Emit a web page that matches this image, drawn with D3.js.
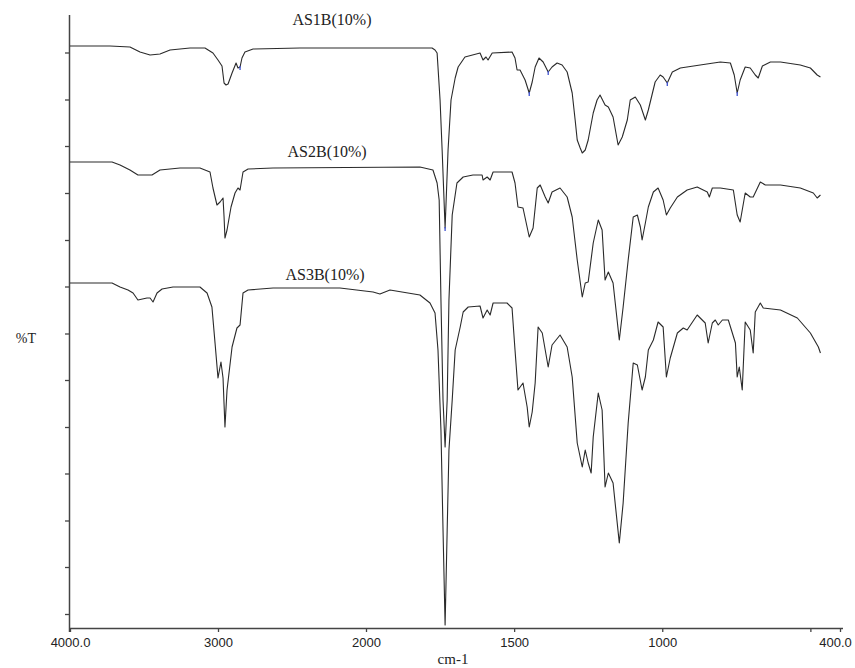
<!DOCTYPE html>
<html>
<head>
<meta charset="utf-8">
<script src="https://cdn.jsdelivr.net/npm/d3@7"></script>
<style>
  html, body { margin: 0; padding: 0; background: #fff; }
  svg { display: block; }
</style>
</head>
<body>
<svg id="chart" width="855" height="668"></svg>
<script>
/* ============================================================
   IR spectra — AS1B / AS2B / AS3B (10%)
   stacked %T traces, wavenumber axis with scale change at 2000
   ============================================================ */

// --- 1. DATA (wavenumber cm-1, %T offset) ---
const seriesNames = ["AS1B(10%)", "AS2B(10%)", "AS3B(10%)"];

const as1b = [
  [4000,116.4],[3730,116.4],[3595,116.2],[3527,115.2],[3459,114.6],[3392,114.8],
  [3324,115.6],[3189,116],[3088,116],[3034,115],[3000,113.6],[2973,112.4],
  [2959,109],[2946,108.6],[2932,108.8],[2905,111],[2878,113],[2865,112],
  [2851,112.2],[2838,114],[2818,115.2],[2763,115.8],[2446,116],[1818,116],
  [1777,116],[1767,115.6],[1760,115],[1750,105.6],[1743,95.6],[1733,80],
  [1723,95.6],[1713,105.6],[1699,110],[1689,112.2],[1666,114.2],[1615,115],
  [1605,113.6],[1595,114.2],[1588,113.6],[1574,115],[1507,115.2],[1497,114],
  [1490,111.6],[1480,111.6],[1463,109.6],[1449,107],[1439,109.2],[1429,112.2],
  [1416,114],[1402,113.2],[1385,111.2],[1372,112.2],[1355,113],[1338,112.6],
  [1321,111.2],[1304,107],[1294,101.6],[1287,97.6],[1277,96],[1270,95],
  [1260,95.6],[1250,97.6],[1233,103],[1220,105.6],[1210,106.6],[1193,104.6],
  [1182,104.2],[1166,102.2],[1149,96.6],[1135,98.2],[1118,101.6],[1108,105.6],
  [1091,106.2],[1074,104.6],[1057,101.6],[1047,103.6],[1024,109.2],[1007,110.6],
  [997,110.2],[983,109],[966,111.2],[939,112],[872,112.6],[804,113.2],
  [770,113],[757,110.6],[747,107],[737,109.6],[720,112.2],[703,112],
  [686,110.6],[676,110],[662,112.4],[635,113.2],[601,113.2],[534,112.6],
  [500,112],[477,110.6],[466,110.2]
];

const as2b = [
  [4000,93.2],[3716,93.2],[3662,92.6],[3595,91.6],[3541,90.6],[3446,90.6],
  [3392,91.6],[3257,92],[3122,92],[3054,91.2],[3034,88],[3007,84.6],
  [2986,85.2],[2966,86],[2959,82.2],[2953,78],[2939,79.6],[2912,84.2],
  [2885,87],[2865,88],[2851,87.6],[2831,91.2],[2797,91.8],[2628,92],
  [1818,92.2],[1774,91.6],[1760,89],[1753,85.6],[1747,65.6],[1740,45.6],
  [1733,36.2],[1726,45.6],[1720,65.6],[1709,82.6],[1699,86.6],[1693,89],
  [1672,90.2],[1639,90.6],[1608,90.6],[1605,89.6],[1591,90.2],[1581,89.6],
  [1571,91.2],[1507,91.2],[1497,89],[1487,84.2],[1470,84],[1449,78.2],
  [1436,80],[1422,88],[1412,88.6],[1395,86.2],[1385,85],[1372,87.2],
  [1345,88],[1321,86.2],[1304,82.2],[1287,73.6],[1270,66.2],[1260,69],
  [1250,69.2],[1233,77],[1216,81.6],[1203,79.6],[1193,69.6],[1182,71.2],
  [1166,69],[1145,57.6],[1132,64.2],[1115,73.6],[1098,82.2],[1084,82.6],
  [1074,80.2],[1068,77.6],[1057,81],[1047,84.2],[1030,87.2],[1014,88],
  [997,85.6],[986,82.6],[973,84],[949,86.2],[916,87.6],[882,88.2],
  [848,87.2],[841,86.2],[831,88],[804,88],[760,87.6],[747,82.6],
  [737,81.2],[720,87],[703,86.2],[693,86.2],[669,89.2],[652,88.6],
  [601,88.6],[534,88],[490,87],[477,86],[466,86.6]
];

const as3b = [
  [4000,69],[3716,69],[3662,68.2],[3608,67.6],[3574,67],[3541,65.6],
  [3480,66],[3459,66],[3439,65.2],[3412,67],[3378,67.8],[3304,68.2],
  [3122,68.2],[3074,67],[3041,64.2],[3020,57],[3000,50],[2980,53.2],
  [2966,50],[2953,40.2],[2939,47.6],[2905,56.2],[2872,60],[2851,60.6],
  [2831,67],[2797,67.6],[2628,68],[2176,68],[1976,67.2],[1953,66.8],
  [1919,67.6],[1818,66.6],[1784,65],[1767,63],[1757,55.6],[1747,39.6],
  [1740,19.6],[1733,0.6],[1726,19.6],[1720,35.6],[1709,45.6],[1699,55.6],
  [1682,60.2],[1672,63.2],[1655,64.2],[1615,64.4],[1605,62],[1591,63.6],
  [1581,62.6],[1571,65],[1524,65],[1507,64],[1497,55.6],[1487,47.6],
  [1470,49],[1456,44.2],[1449,40.2],[1439,43.2],[1429,49],[1419,60.2],
  [1405,59],[1395,55.6],[1385,52.2],[1372,56.6],[1345,58.6],[1321,56.2],
  [1304,50.2],[1287,37],[1270,32.2],[1260,35.6],[1250,33],[1240,31],
  [1233,38.2],[1216,47],[1203,43.6],[1193,28.2],[1182,31],[1166,29],
  [1145,17],[1132,25],[1115,41],[1098,53],[1084,52.6],[1068,47.6],
  [1057,50.2],[1047,55.6],[1030,57.6],[1014,61.2],[997,60.2],[986,50.2],
  [973,54],[949,59],[929,60],[916,59.6],[882,62.6],[855,61],
  [845,57],[831,61],[821,61.6],[811,60.6],[797,61.6],[777,61.6],
  [753,57],[747,50.2],[740,52.2],[730,47.6],[720,61.2],[703,59.6],
  [693,55],[686,63.2],[669,65],[659,64],[601,63.6],[544,62],
  [500,59],[473,56.2],[466,55]
];

// peak picks marked in blue on the top trace
const as1bPeaks = [2851, 1733, 1449, 1385, 983, 747];

// label anchors (wavenumber, %T) for each trace name
const labelWn = [2230, 2263, 2277];
const labelT  = [121.6, 95.2, 70.6];

// axis ticks
const xTicks      = [4000, 3000, 2000, 1500, 1000, 500, 400];
const xTickLabels = ["4000.0", "3000", "2000", "1500", "1000", "", "400.0"];
const yTicks      = [2.8, 12.2, 21.5, 30.9, 40.2, 49.6, 58.9, 68.3, 77.6, 87.0, 96.4, 105.7, 115.1];

// --- 2. LAYOUT ---
const svg = d3.select("#chart");
const plot = { left: 70, right: 840, top: 15, bottom: 628 };

const x = d3.scaleLinear()
    .domain([4000, 2000, 400])
    .range([plot.left, 366, plot.right]);

const y = d3.scaleLinear()
    .domain([0, 122.6])
    .range([plot.bottom, plot.top]);

const serif = "'Liberation Serif', 'Times New Roman', serif";
const sans  = "'Liberation Sans', Arial, sans-serif";

// --- 3. AXES ---
const xAxis = svg.append("g")
    .attr("transform", `translate(0,${plot.bottom})`)
    .call(d3.axisBottom(x)
        .tickValues(xTicks)
        .tickFormat((d, i) => xTickLabels[i])
        .tickSizeOuter(0)
        .tickSize(4)
        .tickPadding(6));

xAxis.select(".domain").attr("stroke", "#444").attr("stroke-width", 1.5)
    .attr("d", `M${plot.left},0.5H${plot.right + 3}`);
xAxis.selectAll(".tick line").attr("stroke", "#444").attr("stroke-width", 1.3);
xAxis.selectAll(".tick text")
    .style("font-family", sans)
    .style("font-size", "13px")
    .style("fill", "#222");
// keep the last label inside the frame
xAxis.selectAll(".tick text").filter(d => d === 400).attr("dx", -5);

const yAxis = svg.append("g")
    .attr("transform", `translate(${plot.left},0)`)
    .call(d3.axisLeft(y)
        .tickValues(yTicks)
        .tickFormat("")
        .tickSizeOuter(0)
        .tickSize(5));

yAxis.select(".domain").attr("stroke", "#444").attr("stroke-width", 1.5)
    .attr("d", `M-0.5,${plot.top}V${plot.bottom + 4}`);
yAxis.selectAll(".tick line").attr("stroke", "#444").attr("stroke-width", 1.3);

// axis titles
svg.append("text")
    .attr("x", 36).attr("y", 343)
    .attr("text-anchor", "end")
    .style("font-family", serif)
    .style("font-size", "14px")
    .style("fill", "#222")
    .text("%T");

svg.append("text")
    .attr("x", 453).attr("y", 664)
    .attr("text-anchor", "middle")
    .style("font-family", serif)
    .style("font-size", "15px")
    .style("fill", "#222")
    .text("cm-1");

// --- 4. TRACES ---
const line = d3.line()
    .x(d => x(d[0]))
    .y(d => y(d[1]));

const traces = [as1b, as2b, as3b];

svg.append("g").selectAll("path")
    .data(traces)
    .join("path")
    .attr("d", line)
    .attr("fill", "none")
    .attr("stroke", "#2a2a2a")
    .attr("stroke-width", 1.1)
    .attr("stroke-linejoin", "round");

// blue peak marks on the top trace
const peakT = wn => {
    const hit = as1b.find(d => d[0] === wn);
    return hit ? hit[1] : null;
};

svg.append("g").selectAll("line")
    .data(as1bPeaks.filter(wn => peakT(wn) !== null))
    .join("line")
    .attr("x1", wn => x(wn)).attr("x2", wn => x(wn))
    .attr("y1", wn => y(peakT(wn)) - 1)
    .attr("y2", wn => y(peakT(wn)) + 3)
    .attr("stroke", "#3b4fd0")
    .attr("stroke-width", 1.3);

// trace names
svg.append("g").selectAll("text")
    .data(seriesNames)
    .join("text")
    .attr("x", (d, i) => x(labelWn[i]))
    .attr("y", (d, i) => y(labelT[i]) + 5)
    .attr("text-anchor", "middle")
    .style("font-family", serif)
    .style("font-size", "16px")
    .style("fill", "#222")
    .text(d => d);
</script>
</body>
</html>
